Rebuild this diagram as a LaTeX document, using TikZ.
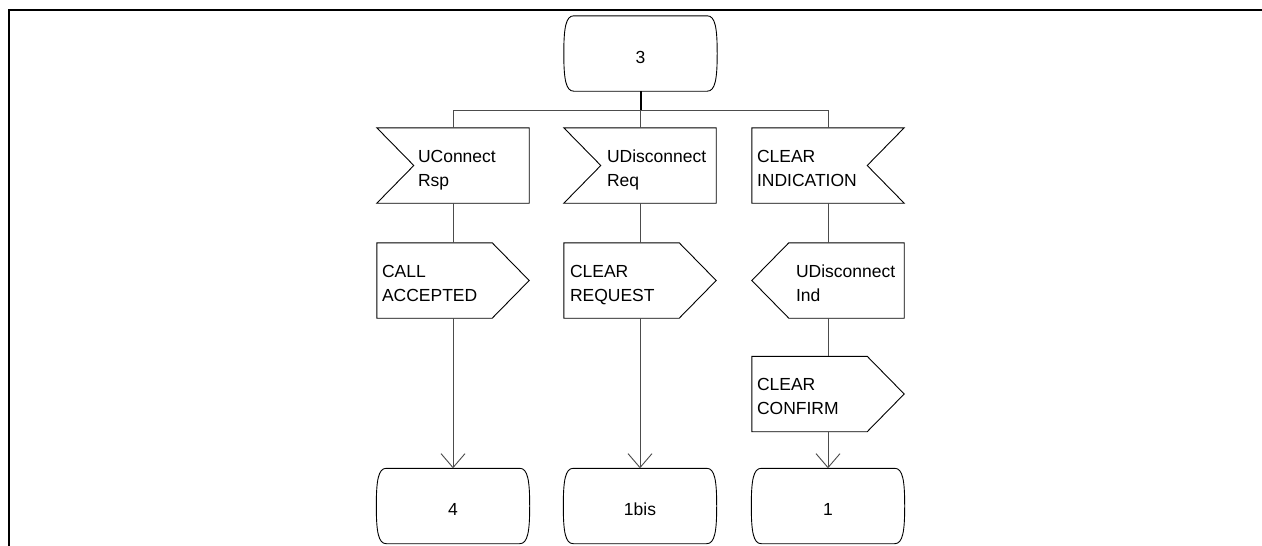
\documentclass[tikz,border=0pt]{standalone}
\usepackage{fontspec}
\setmainfont{Liberation Sans}
\usetikzlibrary{arrows.meta}

% SDL state symbol: flat top and bottom, bulging sides
\newcommand\drawstate[1]{%
  \draw[outline] ([xshift=10pt]#1.north west) -- ([xshift=-10pt]#1.north east)
    .. controls ([xshift=-2pt]#1.north east) and ([yshift=-12pt]#1.north east) .. (#1.east)
    .. controls ([yshift=12pt]#1.south east) and ([xshift=-2pt]#1.south east) .. ([xshift=-10pt]#1.south east)
    -- ([xshift=10pt]#1.south west)
    .. controls ([xshift=2pt]#1.south west) and ([yshift=12pt]#1.south west) .. (#1.west)
    .. controls ([yshift=-12pt]#1.north west) and ([xshift=2pt]#1.north west) .. cycle;}
% input signal, notch on the left
\newcommand\drawinleft[1]{%
  \draw[outline] (#1.north west) -- (#1.north east) -- (#1.south east) -- (#1.south west)
    -- ([xshift=37pt]#1.west) -- cycle;}
% input signal, notch on the right
\newcommand\drawinright[1]{%
  \draw[outline] (#1.north west) -- (#1.north east) -- ([xshift=-37pt]#1.east)
    -- (#1.south east) -- (#1.south west) -- cycle;}
% output signal pointing right
\newcommand\drawoutright[1]{%
  \draw[outline] (#1.north west) -- ([xshift=-37pt]#1.north east) -- (#1.east)
    -- ([xshift=-37pt]#1.south east) -- (#1.south west) -- cycle;}
% output signal pointing left
\newcommand\drawoutleft[1]{%
  \draw[outline] ([xshift=37pt]#1.north west) -- (#1.north east) -- (#1.south east)
    -- ([xshift=37pt]#1.south west) -- (#1.west) -- cycle;}

\tikzset{
  outline/.style={draw=black, line width=0.9pt, line join=miter},
  symbox/.style={draw=none, inner sep=0pt, minimum width=152pt, minimum height=75pt},
  statebox/.style={draw=none, inner sep=0pt, minimum width=153pt, minimum height=75pt,
    font={\fontsize{17.5}{24}\selectfont}, text height=19pt, text depth=0pt},
  lbl/.style={inner sep=0pt, anchor=base west, align=left, text width=112pt,
    font={\fontsize{17.5}{24}\selectfont}},
  conn/.style={draw=black!70, line width=0.9pt},
  busstem/.style={draw=black, line width=2pt},
  flow/.style={conn, -{Straight Barb[length=14pt,width=24pt]}},
  frameline/.style={draw=black, line width=2pt}
}

\begin{document}
\begin{tikzpicture}[x=1pt, y=-1pt]
  \useasboundingbox (0,0) rectangle (1262,546);
  \fill[white] (0,0) rectangle (1262,546);

  % page frame
  \draw[frameline] (9,546) -- (9,10) -- (1262,10);

  % states
  \node[statebox] (s3)   at (640.5,53.5) {3};
  \node[statebox] (s4)   at (453,506)    {4};
  \node[statebox] (s1b)  at (640,506)    {1bis};
  \node[statebox] (s1)   at (828,506)    {1};
  \drawstate{s3}
  \drawstate{s4}
  \drawstate{s1b}
  \drawstate{s1}

  % inputs
  \node[symbox] (in1) at (453,165.5) {};
  \node[symbox] (in2) at (640,165.5) {};
  \node[symbox] (in3) at (828,165.5) {};
  \drawinleft{in1}
  \drawinleft{in2}
  \drawinright{in3}
  \node[lbl] (tin1) at ([xshift=41pt,yshift=3.5pt]in1.west) {UConnect\\Rsp};
  \node[lbl] (tin2) at ([xshift=43pt,yshift=3.5pt]in2.west) {UDisconnect\\Req};
  \node[lbl] (tin3) at ([xshift=5pt,yshift=3.5pt]in3.west)  {CLEAR\\INDICATION};

  % outputs
  \node[symbox] (out1) at (453,280.5) {};
  \node[symbox] (out2) at (640,280.5) {};
  \node[symbox] (out3) at (828,280.5) {};
  \node[symbox] (out4) at (828,394)   {};
  \drawoutright{out1}
  \drawoutright{out2}
  \drawoutleft{out3}
  \drawoutright{out4}
  \node[lbl] (tout1) at ([xshift=5pt,yshift=3.5pt]out1.west)  {CALL\\ACCEPTED};
  \node[lbl] (tout2) at ([xshift=6pt,yshift=3.5pt]out2.west)  {CLEAR\\REQUEST};
  \node[lbl] (tout3) at ([xshift=44pt,yshift=3.5pt]out3.west) {UDisconnect\\Ind};
  \node[lbl] (tout4) at ([xshift=5pt,yshift=4pt]out4.west)    {CLEAR\\CONFIRM};

  % branching bus below state 3
  \coordinate (b1) at (453,110);
  \coordinate (b2) at (640.5,110);
  \coordinate (b3) at (828,110);
  \draw[busstem] (s3.south) -- (b2);
  \draw[conn] (b1) -- (b3);
  \draw[conn] (b1) -- (in1.north);
  \draw[conn] (b2 -| in2.north) -- (in2.north);
  \draw[conn] (b3) -- (in3.north);

  % transitions
  \draw[conn] (in1.south) -- (out1.north);
  \draw[conn] (in2.south) -- (out2.north);
  \draw[conn] (in3.south) -- (out3.north);
  \draw[conn] (out3.south) -- (out4.north);
  \draw[flow] (out1.south) -- (s4.north);
  \draw[flow] (out2.south) -- (s1b.north);
  \draw[flow] (out4.south) -- (s1.north);
\end{tikzpicture}
\end{document}
